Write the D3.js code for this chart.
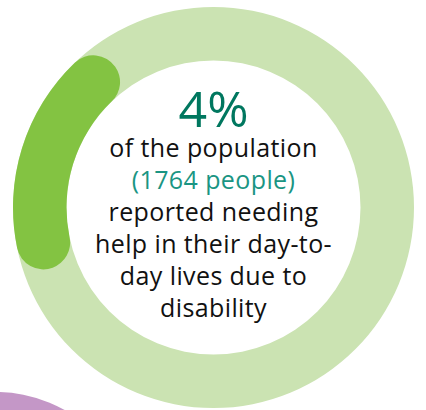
<!DOCTYPE html>
<html>
<head>
<meta charset="utf-8">
<script src="https://cdn.jsdelivr.net/npm/d3@7"></script>
<style>
  html, body { margin: 0; padding: 0; background: #fff; }
  svg { display: block; }
</style>
</head>
<body>
<div id="chart"></div>
<script>
// data
const headline = ["4%"];
const people = [1764];
const descLines = ["of the population", "(1764 people)", "reported needing", "help in their day-to-", "day lives due to", "disability"];
// highlighted part of the ring, in percent of the full circle (as drawn in the original)
const highlight = [69.3, 90.3];

const width = 426, height = 410;
const cx = 213.5, cy = 207.5;
const outerR = 200.5, innerR = 147;

const svg = d3.select("#chart")
  .append("svg")
  .attr("width", width)
  .attr("height", height);

// purple blob peeking in at the bottom left
svg.append("circle")
  .attr("cx", -4)
  .attr("cy", 532)
  .attr("r", 140)
  .attr("fill", "#c497c7");

const g = svg.append("g")
  .attr("transform", `translate(${cx}, ${cy})`);

const angle = d3.scaleLinear()
  .domain([0, 100])
  .range([0, 2 * Math.PI]);

// background ring
g.append("path")
  .attr("d", d3.arc()
    .innerRadius(innerR)
    .outerRadius(outerR)
    .startAngle(angle(0))
    .endAngle(angle(100))())
  .attr("fill", "#cbe3b2");

// highlighted segment with rounded ends
g.append("path")
  .datum(highlight)
  .attr("d", d => d3.arc()
    .innerRadius(innerR)
    .outerRadius(outerR)
    .cornerRadius((outerR - innerR) / 2)
    .startAngle(angle(d[0]))
    .endAngle(angle(d[1]))())
  .attr("fill", "#83c342");

// big number
g.append("text")
  .attr("x", 0)
  .attr("y", 127 - cy)
  .attr("text-anchor", "middle")
  .attr("font-family", "'Open Sans', sans-serif")
  .attr("font-size", 50)
  .attr("fill", "#00775f")
  .text(headline[0]);

const lineY = d3.scaleLinear()
  .domain([0, descLines.length - 1])
  .range([157 - cy, 317 - cy]);

g.selectAll("text.desc")
  .data(descLines)
  .enter()
  .append("text")
  .attr("class", "desc")
  .attr("x", 0)
  .attr("y", (d, i) => lineY(i))
  .attr("text-anchor", "middle")
  .attr("font-family", "'Open Sans', sans-serif")
  .attr("font-size", 25)
  .attr("letter-spacing", 0.4)
  .attr("fill", d => d.indexOf(people[0]) >= 0 ? "#1a9583" : "#111")
  .text(d => d);
</script>
</body>
</html>
